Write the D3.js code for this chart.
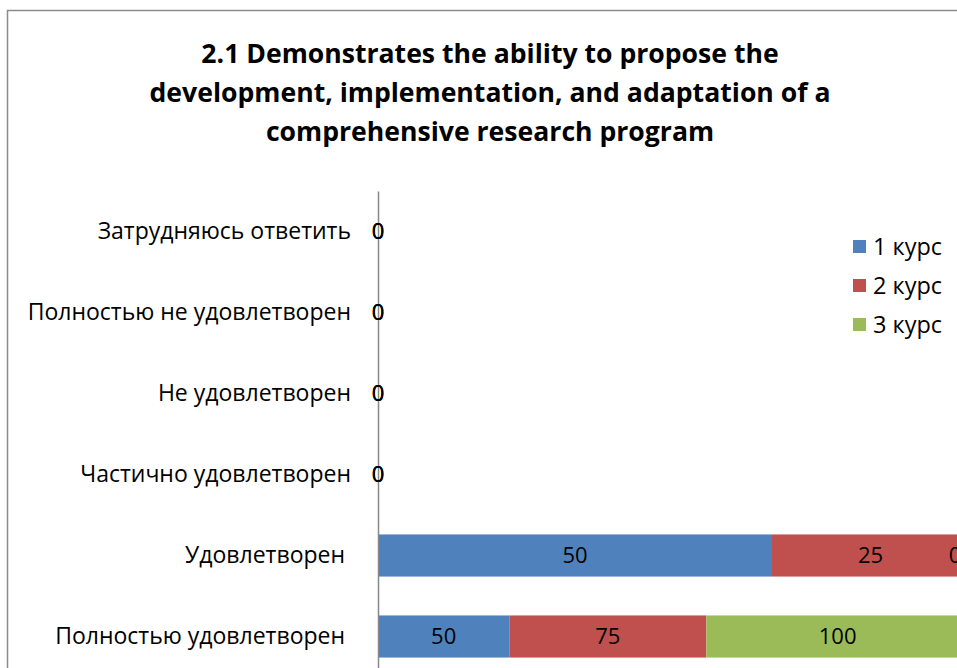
<!DOCTYPE html>
<html><head><meta charset="utf-8">
<script src="https://cdn.jsdelivr.net/npm/d3@7"></script>
<style>
body{margin:0;background:#fff;overflow:hidden}
text{font-family:"Open Sans","Noto Sans",sans-serif;fill:#000}
</style>
</head><body>
<svg id="c" width="957" height="668"></svg>
<script>
const titleLines = ["2.1 Demonstrates the ability to propose the",
  "development, implementation, and adaptation of a",
  "comprehensive research program"];
const categories = ["Затрудняюсь ответить","Полностью не удовлетворен","Не удовлетворен",
  "Частично удовлетворен","Удовлетворен ","Полностью удовлетворен "];
const seriesNames = ["1 курс","2 курс","3 курс"];
const course1 = [0,0,0,0,50,50];
const course2 = [0,0,0,0,25,75];
const course3 = [0,0,0,0,0,100];
const colors = ["#4F81BD","#C0504D","#9BBB59"];

const svg = d3.select("#c");
// chart border
svg.append("rect").attr("x",7.5).attr("y",10.5).attr("width",1200).attr("height",1000)
  .attr("fill","#fff").attr("stroke","#8c8c8c").attr("stroke-width",1.5);

// title
svg.append("g").selectAll("text").data(titleLines).join("text")
  .attr("x",490).attr("y",(d,i)=>63+i*39).attr("text-anchor","middle")
  .style("font-weight","bold").style("font-size","26.6px").text(d=>d);

const rows = categories.map((c,i)=>({cat:c, s0:course1[i], s1:course2[i], s2:course3[i]}));
const keys = ["s0","s1","s2"];
const stack = d3.stack().keys(keys).offset(d3.stackOffsetExpand)(rows);

const x = d3.scaleLinear().domain([0,1]).range([378,969]);
const y = d3.scaleBand().domain(categories).range([191,677]).paddingInner(0.48).paddingOuter(0.24);

// bars
svg.append("g").selectAll("g").data(stack).join("g").attr("fill",(d,i)=>colors[i])
  .selectAll("rect").data(d=>d).join("rect")
  .attr("x",d=>x(d[0])).attr("y",d=>y(d.data.cat))
  .attr("width",d=>x(d[1])-x(d[0])).attr("height",y.bandwidth());

// axis
const ax = svg.append("g").attr("transform","translate(378,0)")
  .call(d3.axisLeft(y).tickSize(0).tickPadding(27));
ax.select(".domain").attr("stroke","#888").attr("stroke-width",1.5);
ax.selectAll("text").style("font-size","23px").style("white-space","pre")
  .attr("fill","#000").attr("font-family",null);

// data labels
const labelG = svg.append("g");
stack.forEach((s,si)=>{
  labelG.selectAll(null).data(s).join("text")
    .attr("x",d=>Math.min((x(d[0])+x(d[1]))/2, x(1)-14))
    .attr("y",d=>y(d.data.cat)+y.bandwidth()/2)
    .attr("dy","0.36em").attr("text-anchor","middle")
    .style("font-size","22px")
    .text(d=>d.data[keys[si]]);
});

// legend
const lg = svg.append("g").selectAll("g").data(seriesNames).join("g")
  .attr("transform",(d,i)=>`translate(853,${240+i*39})`);
lg.append("rect").attr("width",13).attr("height",13).attr("fill",(d,i)=>colors[i]);
lg.append("text").attr("x",20).attr("y",6.5).attr("dy","0.36em").style("font-size","23.5px").text(d=>d);
</script>
</body></html>
